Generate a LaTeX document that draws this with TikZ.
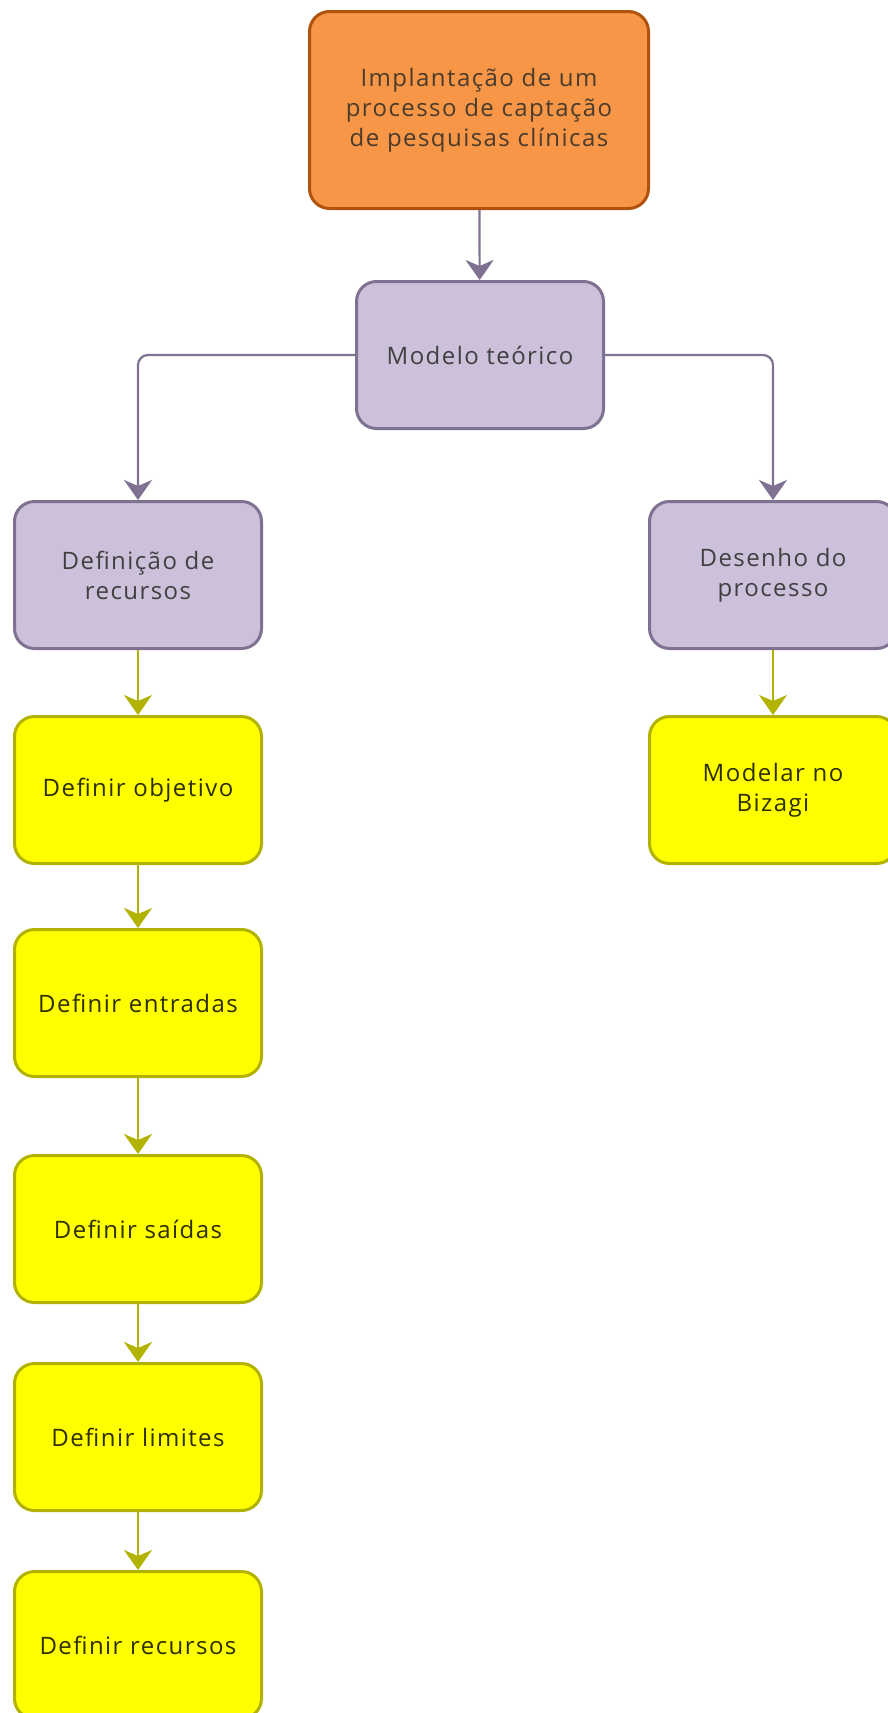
\documentclass[tikz,border=0pt]{standalone}
\usepackage{fontspec}
\setmainfont{Open Sans}[LetterSpace=6]
\usetikzlibrary{arrows.meta}
\definecolor{orfill}{HTML}{F79646}
\definecolor{ordraw}{HTML}{B0530F}
\definecolor{ortext}{HTML}{4A3B2C}
\definecolor{pufill}{HTML}{CCC0DA}
\definecolor{pudraw}{HTML}{7F7191}
\definecolor{putext}{HTML}{404040}
\definecolor{yefill}{HTML}{FFFF00}
\definecolor{yedraw}{HTML}{B2B200}
\definecolor{yetext}{HTML}{2E2E00}
\tikzset{
  box/.style={rectangle, rounded corners=20pt, line width=3pt, align=center,
    minimum width=247pt, minimum height=147pt, inner sep=2pt,
    font=\fontsize{24}{30}\selectfont},
  orbox/.style={box, fill=orfill, draw=ordraw, text=ortext,
    minimum width=339pt, minimum height=197pt},
  pubox/.style={box, fill=pufill, draw=pudraw, text=putext},
  yebox/.style={box, fill=yefill, draw=yedraw, text=yetext},
  conn/.style={line width=2.2pt, -{Stealth[length=20pt,width=28pt,inset=6pt]}},
  puconn/.style={conn, draw=pudraw},
  yeconn/.style={conn, draw=yedraw},
}
\begin{document}
\begin{tikzpicture}[x=1pt,y=-1pt]
\useasboundingbox (0,0) rectangle (887,1713);
\node[orbox] (top) at (479,110) {Implantação de um\\processo de captação\\de pesquisas clínicas};
\node[pubox] (mod) at (480,355) {Modelo teórico};
\node[pubox] (def) at (138,575) {Definição de\\recursos};
\node[pubox] (des) at (773,575) {Desenho do\\processo};
\node[yebox] (obj) at (138,790) {Definir objetivo};
\node[yebox] (biz) at (773,790) {Modelar no\\Bizagi};
\node[yebox] (ent) at (138,1003) {Definir entradas};
\node[yebox] (sai) at (138,1229) {Definir saídas};
\node[yebox] (lim) at (138,1437) {Definir limites};
\node[yebox] (rec) at (138,1645) {Definir recursos};
\draw[puconn] (top) -- (mod);
\draw[puconn, rounded corners=10pt] (mod.west) -| (def.north);
\draw[puconn, rounded corners=10pt] (mod.east) -| (des.north);
\draw[yeconn] (def) -- (obj);
\draw[yeconn] (des) -- (biz);
\draw[yeconn] (obj) -- (ent);
\draw[yeconn] (ent) -- (sai);
\draw[yeconn] (sai) -- (lim);
\draw[yeconn] (lim) -- (rec);
\end{tikzpicture}
\end{document}
